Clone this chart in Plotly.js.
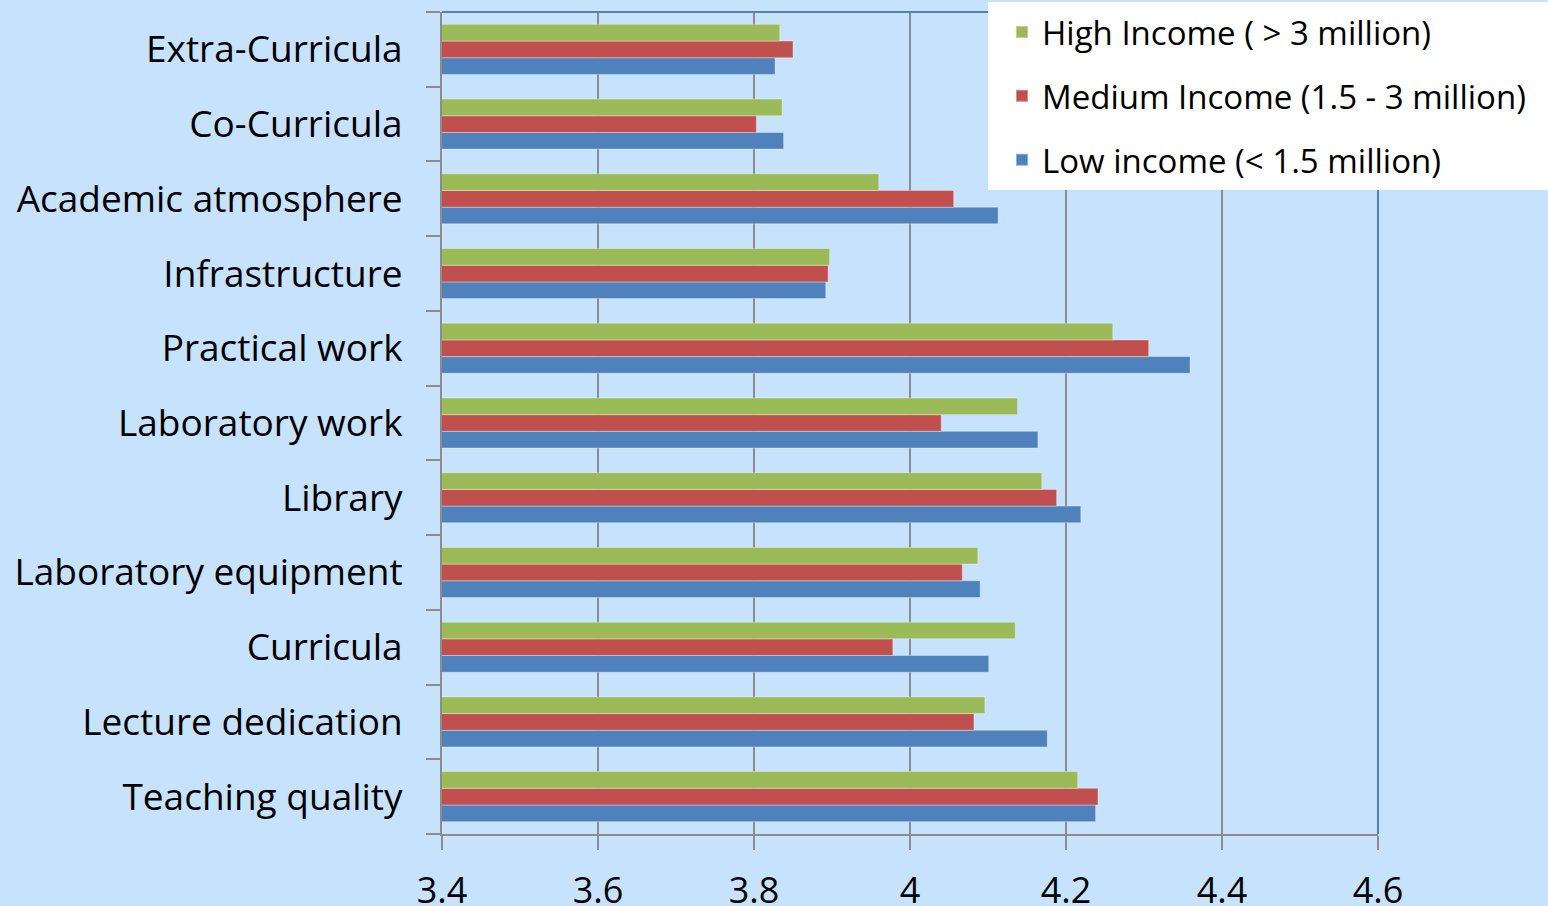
<!DOCTYPE html>
<html><head><meta charset="utf-8">
<script src="https://cdn.plot.ly/plotly-3.0.1.min.js"></script>
<style>html,body{margin:0;padding:0;background:#C7E2FC;}#chart{width:1548px;height:906px;}</style>
</head><body><div id="chart"></div>
<script>
const categories = ["Teaching quality","Lecture dedication","Curricula","Laboratory equipment","Library","Laboratory work","Practical work","Infrastructure","Academic atmosphere","Co-Curricula","Extra-Curricula"];
const lowIncome    = [4.238, 4.176, 4.101, 4.090, 4.219, 4.164, 4.359, 3.892, 4.113, 3.838, 3.827];
const mediumIncome = [4.241, 4.082, 3.978, 4.067, 4.188, 4.040, 4.306, 3.895, 4.056, 3.803, 3.850];
const highIncome   = [4.215, 4.096, 4.135, 4.087, 4.169, 4.138, 4.260, 3.897, 3.960, 3.836, 3.833];
const seriesNames = ["Low income (< 1.5 million)", "Medium Income (1.5 - 3 million)", "High Income ( > 3 million)"];
const xTicks = [3.4, 3.6, 3.8, 4.0, 4.2, 4.4, 4.6];
const xTickText = ["3.4","3.6","3.8","4","4.2","4.4","4.6"];

const font = "Open Sans, Liberation Sans, sans-serif";
const mk = (vals, name, color, grp, rank) => ({
  type: "bar", orientation: "h", x: vals, y: categories, name: name,
  legendgroup: grp, legendrank: rank,
  base: 0, marker: {color: color, line: {color: "rgba(255,255,255,0.35)", width: 1}},
  hoverinfo: "x+name"
});
const data = [
  mk(lowIncome, seriesNames[0], "#4F81BD", "g3", 3),
  mk(mediumIncome, seriesNames[1], "#C0504D", "g2", 2),
  mk(highIncome, seriesNames[2], "#9BBB59", "g1", 1)
];
const W = 1548, H = 906, L = 442, R = 170, T = 12, B = 72;
const pw = W - L - R, ph = H - T - B;
const px = v => (v - L) / pw;
const py = v => (H - B - v) / ph;
const layout = {
  width: W, height: H,
  paper_bgcolor: "#C7E2FC", plot_bgcolor: "#C7E2FC",
  margin: {l: L, r: R, t: T, b: B, pad: 0, autoexpand: false},
  barmode: "group", bargap: 0.33, bargroupgap: 0,
  font: {family: font, color: "#000"},
  xaxis: {
    range: [3.4, 4.6], tickvals: xTicks, ticktext: xTickText,
    showgrid: true, gridcolor: "#8C8C8C", gridwidth: 1.5,
    zeroline: false, showline: true, linecolor: "#8C8C8C", linewidth: 2,
    ticks: "outside", ticklen: 14, tickcolor: "#8C8C8C", tickwidth: 1.5,
    tickfont: {family: font, size: 36, color: "#000"},
    ticklabelstandoff: 10
  },
  yaxis: {
    type: "category", showgrid: false, zeroline: false,
    showline: true, linecolor: "#8C8C8C", linewidth: 2,
    ticks: "outside", ticklen: 14, tickcolor: "#8C8C8C", tickwidth: 1.5,
    tickson: "boundaries",
    tickfont: {family: font, size: 37, color: "#000"},
    ticklabelstandoff: 30
  },
  legend: {
    x: px(1002), xanchor: "left", y: py(4), yanchor: "top",
    bgcolor: "rgba(0,0,0,0)", borderwidth: 0,
    traceorder: "grouped", tracegroupgap: 18,
    font: {family: font, size: 33, color: "#000"},
    itemsizing: "constant"
  },
  shapes: [
    {type: "line", xref: "paper", yref: "paper", x0: 0, x1: 1, y0: 1, y1: 1, line: {color: "#4F81BD", width: 2}},
    {type: "line", xref: "paper", yref: "paper", x0: 1, x1: 1, y0: 0, y1: 1, line: {color: "#4F81BD", width: 2}},
    {type: "rect", xref: "paper", yref: "paper", layer: "above", x0: px(988), x1: px(1548), y0: py(190), y1: py(2), fillcolor: "#FFFFFF", line: {width: 0}}
  ],
  showlegend: true
};
Plotly.newPlot("chart", data, layout, {displayModeBar: false});
</script></body></html>
